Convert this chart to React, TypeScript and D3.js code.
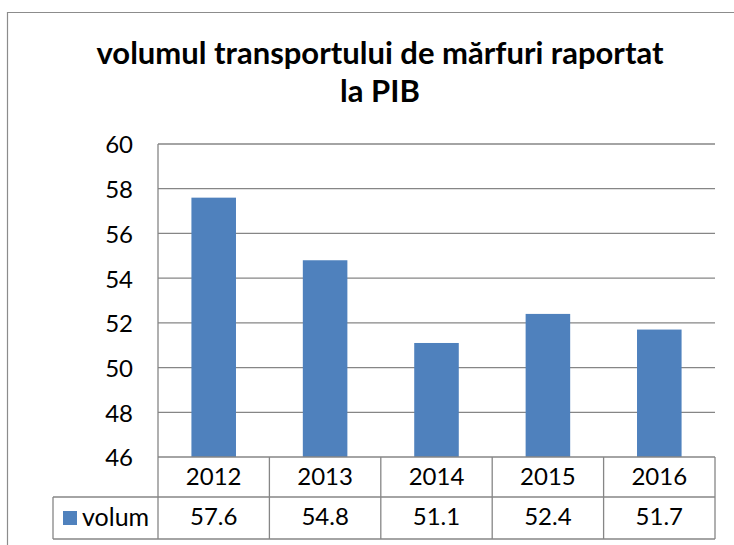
import React from "react";
import * as d3 from "d3";

const titleLines = ["volumul transportului de mărfuri raportat", "la PIB"];
const years = ["2012", "2013", "2014", "2015", "2016"];
const values = [57.6, 54.8, 51.1, 52.4, 51.7];
const valueLabels = ["57.6", "54.8", "51.1", "52.4", "51.7"];
const yTicks = [46, 48, 50, 52, 54, 56, 58, 60];
const seriesName = "volum";

const W = 734;
const H = 545;
const FONT = "Lato, 'Open Sans', sans-serif";
const GRID = "#868686";
const BAR = "#4F81BD";
const NUM_FS = 24;

export default function App() {
  const x = d3.scaleBand<string>().domain(years).range([158, 715]).padding(0);
  const y = d3.scaleLinear().domain([46, 60]).range([457, 144]);
  const bw = x.bandwidth();
  const barW = bw * 0.4;
  const row1 = 497;
  const row2 = 539;
  const legendLeft = 53;

  return (
    <svg
      width={W}
      height={H}
      style={{ position: "absolute", left: 0, top: 0, background: "#fff" }}
      fontFamily={FONT}
    >
      <rect x={0} y={0} width={W} height={H} fill="#fff" />
      {/* outer chart border */}
      <path d={`M7.5,${H} V12.5 H${W}`} fill="none" stroke="#8c8c8c" strokeWidth={1.2} />

      {/* title (two wrapped lines) */}
      {titleLines.map((t, i) => (
        <text
          key={i}
          x={380}
          y={64 + i * 38}
          textAnchor="middle"
          fontWeight="bold"
          fontSize={31}
          fill="#000"
        >
          {t}
        </text>
      ))}

      {/* gridlines */}
      {yTicks.slice(1).map((t) => (
        <line key={t} x1={158} x2={715} y1={y(t)} y2={y(t)} stroke={GRID} strokeWidth={1.3} />
      ))}

      {/* bars */}
      {years.map((yr, i) => (
        <rect
          key={yr}
          x={(x(yr) as number) + (bw - barW) / 2}
          y={y(values[i])}
          width={barW}
          height={y(46) - y(values[i])}
          fill={BAR}
        />
      ))}

      {/* y tick labels */}
      {yTicks.map((t) => (
        <text key={t} x={133} y={y(t) + 1} dy="0.35em" textAnchor="end" fontSize={NUM_FS} fill="#000">
          {t}
        </text>
      ))}

      {/* axis / table lines */}
      <line x1={158} x2={158} y1={144} y2={row2} stroke={GRID} strokeWidth={1.3} />
      <line x1={158} x2={715} y1={457} y2={457} stroke={GRID} strokeWidth={1.3} />
      <line x1={legendLeft} x2={715} y1={row1} y2={row1} stroke={GRID} strokeWidth={1.3} />
      <line x1={legendLeft} x2={715} y1={row2} y2={row2} stroke={GRID} strokeWidth={1.3} />
      <line x1={legendLeft} x2={legendLeft} y1={row1} y2={row2} stroke={GRID} strokeWidth={1.3} />
      {years.map((yr) => (
        <line
          key={yr}
          x1={(x(yr) as number) + bw}
          x2={(x(yr) as number) + bw}
          y1={457}
          y2={row2}
          stroke={GRID}
          strokeWidth={1.3}
        />
      ))}

      {/* year labels */}
      {years.map((yr) => (
        <text
          key={yr}
          x={(x(yr) as number) + bw / 2}
          y={477}
          dy="0.35em"
          textAnchor="middle"
          fontSize={NUM_FS}
          fill="#000"
        >
          {yr}
        </text>
      ))}

      {/* values row */}
      {valueLabels.map((v, i) => (
        <text
          key={i}
          x={(x(years[i]) as number) + bw / 2}
          y={517}
          dy="0.35em"
          textAnchor="middle"
          fontSize={NUM_FS}
          fill="#000"
        >
          {v}
        </text>
      ))}

      {/* legend key */}
      <rect x={63} y={511} width={14} height={14} fill={BAR} />
      <text x={82} y={517} dy="0.35em" fontSize={25} fill="#000">
        {seriesName}
      </text>
    </svg>
  );
}
